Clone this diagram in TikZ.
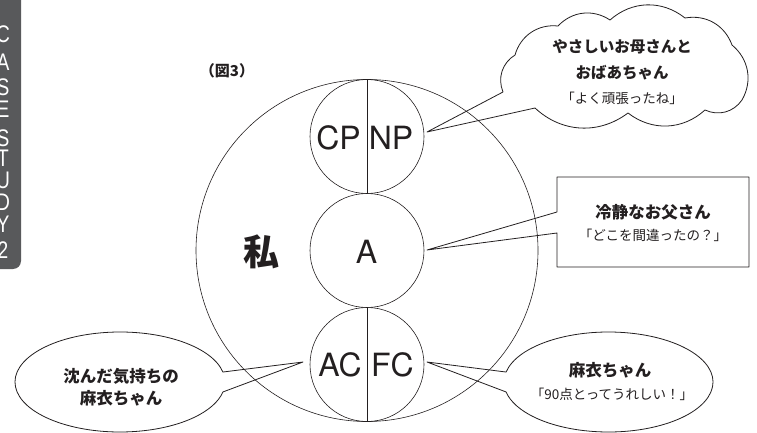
\documentclass[tikz,border=0pt]{standalone}
\usepackage{fontspec}
\setmainfont{Noto Sans CJK JP}
\newfontfamily\latfont{TeX Gyre Heros}
\newfontfamily\tabfont[FakeStretch=0.8]{Liberation Sans}
\definecolor{tabgray}{HTML}{58595B}
\definecolor{ink}{HTML}{231F20}
\begin{document}
\begin{tikzpicture}[x=1pt,y=-1pt,
  callout/.style={draw=ink, fill=white, line width=0.8pt, line join=round},
  ring/.style={draw=ink, line width=0.6pt, circle, inner sep=0pt},
  jpbold/.style={font=\fontsize{16.5}{18}\selectfont\bfseries, text=ink, inner sep=0pt},
  cloudbold/.style={font=\fontsize{15.5}{17}\selectfont\bfseries, text=ink, inner sep=0pt},
  jpquote/.style={font=\fontsize{13.5}{15}\selectfont, text=ink, inner sep=0pt},
  egolabel/.style={font=\latfont\fontsize{32}{34}\selectfont, text=ink, inner sep=0pt},
  tabletter/.style={font=\tabfont\fontsize{24}{25}\selectfont, text=white, inner sep=0pt},
  puff/.style={bend left=40}]
\useasboundingbox (0,0) rectangle (757,433);

% side tab
\fill[tabgray, rounded corners=8pt] (-20,-20) rectangle (21,269);
\foreach \ch/\yy in {C/34, A/62, S/87, E/109, S/138, T/158, U/180, D/202, Y/224, 2/250}
  \node[tabletter] (tab\yy) at (3,\yy) {\ch};

% cloud callout (top right)
\coordinate (cloudtip) at (427,132);
\coordinate (k1) at (503,92);
\coordinate (k2) at (515,55);
\coordinate (k3) at (558,26);
\coordinate (k4) at (610,20);
\coordinate (k5) at (685,18);
\coordinate (k6) at (732,45);
\coordinate (k7) at (742,100);
\coordinate (k8) at (705,110);
\coordinate (k9) at (628,113);
\coordinate (k10) at (535,108);
\draw[callout] (k10) -- (cloudtip) -- (k1)
  to[puff] (k2) to[puff] (k3) to[puff] (k4) to[puff] (k5) to[puff] (k6)
  to[puff] (k7) to[puff] (k8) to[puff] (k9) to[puff] (k10) -- cycle;

% rectangle callout (right middle)
\coordinate (recttip) at (427,250);
\draw[callout] (557,212) -- (557,177) -- (749,177) -- (749,267) -- (557,267) -- (557,233) -- (recttip) -- cycle;

% left ellipse callout
\coordinate (lell) at (120,382);
\coordinate (ltip) at (303,362);
\draw[callout] (lell) ++(-11.5:105 and 50) arc[start angle=-11.5, end angle=-348.5, x radius=105, y radius=50] -- (ltip) -- cycle;

% right ellipse callout
\coordinate (rell) at (608.5,382);
\coordinate (rtip) at (427,362);
\draw[callout] (rell) ++(191.5:104.5 and 50) arc[start angle=191.5, end angle=528.5, x radius=104.5, y radius=50] -- (rtip) -- cycle;

% circles
\node[ring, minimum size=342pt] (me) at (367,250.5) {};
\node[ring, minimum size=114pt] (parent) at (367,136.5) {};
\node[ring, minimum size=114pt] (adult) at (367,250.5) {};
\node[ring, minimum size=114pt] (child) at (367,364.5) {};
\draw[ink, line width=0.7pt] (parent.north) -- (parent.south);
\draw[ink, line width=0.7pt] (child.north) -- (child.south);

% labels
\node[egolabel] (cp) at (338.5,138) {CP};
\node[egolabel] (np) at (391,138) {NP};
\node[egolabel] (a) at (366.5,251.5) {A};
\node[egolabel] (ac) at (340,364.5) {AC};
\node[egolabel] (fc) at (392.5,364.5) {FC};
\node[font=\fontsize{36}{38}\selectfont\bfseries, text=ink, inner sep=0pt] (watashi) at (261,252) {私};
\node[font=\fontsize{15}{16}\selectfont\bfseries, text=ink, inner sep=0pt] (fig) at (227,71) {（図3）};

% callout texts
\node[cloudbold] (m1) at (622,47) {やさしいお母さんと};
\node[cloudbold] (m2) at (622,73) {おばあちゃん};
\node[jpquote] (m3) at (622,98) {「よく頑張ったね」};
\node[jpbold] (f1) at (653,212) {冷静なお父さん};
\node[jpquote] (f2) at (653,235) {「どこを間違ったの？」};
\node[jpbold] (l1) at (121,376) {沈んだ気持ちの};
\node[jpbold] (l2) at (121,398) {麻衣ちゃん};
\node[jpbold] (r1) at (610,370) {麻衣ちゃん};
\node[jpquote] (r2) at (612,394) {「90点とってうれしい！」};
\end{tikzpicture}
\end{document}
